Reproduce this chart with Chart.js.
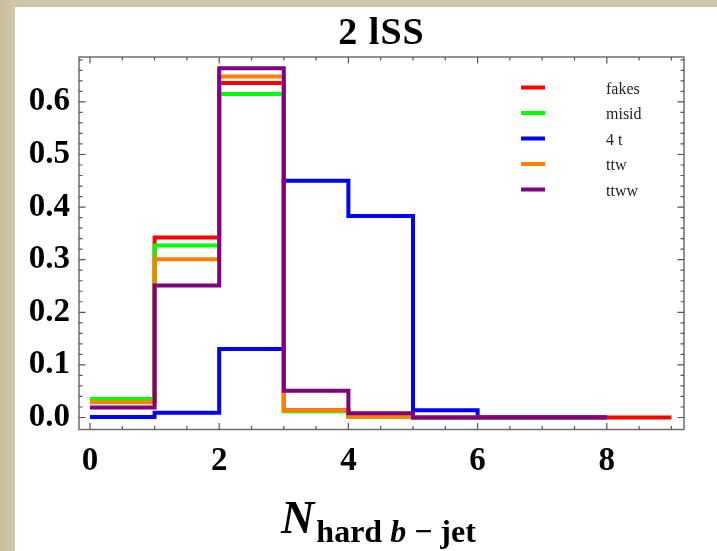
<!DOCTYPE html>
<html>
<head>
<meta charset="utf-8">
<script src="https://cdn.jsdelivr.net/npm/chart.js@4/dist/chart.umd.min.js"></script>
<style>
  html, body { margin: 0; padding: 0; background: #cfc4a7; }
  #wrap { width: 717px; height: 551px; }
  canvas { display: block; }
</style>
</head>
<body>
<div id="wrap"><canvas id="c" width="717" height="551"></canvas></div>
<script>
// Bin edges (N hard b-jet) and normalised distributions per sample
const binEdges = [0, 1, 2, 3, 4, 5, 6, 7, 8, 9];
const fakes   = [0.030, 0.342, 0.636, 0.014, 0.002, 0.000, 0.000, 0.000, 0.000];
const misid   = [0.035, 0.327, 0.615, 0.012, 0.002, 0.000, 0.000, 0.000];
const fourTop = [0.001, 0.009, 0.130, 0.450, 0.383, 0.014, 0.001, 0.001];
const ttw     = [0.029, 0.301, 0.648, 0.014, 0.002, 0.000, 0.000, 0.000];
const ttww    = [0.019, 0.251, 0.664, 0.051, 0.008, 0.000, 0.000, 0.000];

const seriesNames  = ['fakes', 'misid', '4 t', 'ttw', 'ttww'];
const seriesColors = ['#ff0000', '#00ff00', '#0000ff', '#ff8000', '#800080'];
const seriesValues = [fakes, misid, fourTop, ttw, ttww];

const xTickValues = [0, 2, 4, 6, 8];
const yTickValues = [0, 0.1, 0.2, 0.3, 0.4, 0.5, 0.6];

const SERIF = '"Liberation Serif", "Times New Roman", serif';

// histogram outline: each bin value sits at its lower edge; the last value is
// repeated at the upper edge so the final bin is closed off horizontally
function stepPoints(vals) {
  const pts = vals.map((v, i) => ({ x: binEdges[i], y: v }));
  pts.push({ x: binEdges[vals.length], y: vals[vals.length - 1] });
  return pts;
}

const datasets = seriesValues.map((vals, i) => ({
  label: seriesNames[i],
  data: stepPoints(vals),
  borderColor: seriesColors[i],
  backgroundColor: seriesColors[i],
  borderWidth: 4,
  stepped: 'before',
  pointRadius: 0,
  fill: false,
  order: seriesValues.length - i   // later samples drawn on top
}));

const decorations = {
  id: 'decorations',
  beforeDraw(chart) {
    const ctx = chart.ctx;
    ctx.save();
    ctx.fillStyle = '#cfc4a7';
    ctx.fillRect(0, 0, chart.width, chart.height);
    const g = ctx.createLinearGradient(0, 0, 15, 0);
    g.addColorStop(0, '#c9bd9f');
    g.addColorStop(1, '#d3c8ac');
    ctx.fillStyle = g;
    ctx.fillRect(0, 0, 15, chart.height);
    ctx.fillStyle = '#ffffff';
    ctx.fillRect(15, 7, chart.width - 15, chart.height - 7);
    ctx.restore();
  },
  afterDraw(chart) {
    const ctx = chart.ctx;
    const a = chart.chartArea;
    const xs = chart.scales.x, ys = chart.scales.y;
    ctx.save();

    // frame
    ctx.strokeStyle = '#6e6e6e';
    ctx.lineWidth = 1.5;
    ctx.strokeRect(a.left, a.top, a.right - a.left, a.bottom - a.top);

    // inward ticks on all four sides
    ctx.strokeStyle = '#555';
    ctx.lineWidth = 1.2;
    ctx.beginPath();
    for (let k = 0; k <= 18; k++) {
      const v = k * 0.5;
      const px = xs.getPixelForValue(v);
      if (px < a.left || px > a.right) continue;
      const len = (k % 4 === 0) ? 6.5 : 3.5;
      ctx.moveTo(px, a.bottom); ctx.lineTo(px, a.bottom - len);
      ctx.moveTo(px, a.top);    ctx.lineTo(px, a.top + len);
    }
    for (let k = 0; k <= 34; k++) {
      const v = k * 0.02;
      const py = ys.getPixelForValue(v);
      if (py < a.top || py > a.bottom) continue;
      const len = (k % 5 === 0) ? 6.5 : 3.5;
      ctx.moveTo(a.left, py);  ctx.lineTo(a.left + len, py);
      ctx.moveTo(a.right, py); ctx.lineTo(a.right - len, py);
    }
    ctx.stroke();

    // title
    ctx.fillStyle = '#000';
    ctx.font = 'bold 38px ' + SERIF;
    ctx.textAlign = 'center';
    ctx.textBaseline = 'alphabetic';
    if ('letterSpacing' in ctx) ctx.letterSpacing = '1px';
    ctx.fillText('2 lSS', (a.left + a.right) / 2, 44);
    if ('letterSpacing' in ctx) ctx.letterSpacing = '0px';

    // legend
    ctx.textAlign = 'left';
    ctx.textBaseline = 'middle';
    ctx.font = '16px ' + SERIF;
    seriesNames.forEach((name, i) => {
      const y = 87.5 + i * 25.5;
      ctx.strokeStyle = seriesColors[i];
      ctx.lineWidth = 4;
      ctx.beginPath();
      ctx.moveTo(521, y); ctx.lineTo(545, y);
      ctx.stroke();
      ctx.fillStyle = '#222';
      ctx.fillText(name, 606, y + 2);
    });

    // x-axis title: N with subscript "hard b - jet"
    const parts = [
      { t: 'N', f: 'italic bold 46px ' + SERIF, dy: 0 },
      { t: 'hard ', f: 'bold 32px ' + SERIF, dy: 8.5 },
      { t: 'b', f: 'italic bold 32px ' + SERIF, dy: 8.5 },
      { t: ' \u2212 ', f: 'bold 32px ' + SERIF, dy: 8.5 },
      { t: 'jet', f: 'bold 32px ' + SERIF, dy: 8.5 }
    ];
    let total = 0;
    parts.forEach(p => { ctx.font = p.f; p.w = ctx.measureText(p.t).width; total += p.w; });
    total += 2;
    let x = (a.left + a.right) / 2 - total / 2 - 3;
    ctx.textBaseline = 'alphabetic';
    ctx.fillStyle = '#000';
    parts.forEach((p, i) => {
      ctx.font = p.f;
      ctx.fillText(p.t, x, 533 + p.dy);
      x += p.w + (i === 0 ? 2 : 0);
    });
    ctx.restore();
  }
};

new Chart(document.getElementById('c'), {
  type: 'line',
  data: { datasets },
  plugins: [decorations],
  options: {
    responsive: false,
    devicePixelRatio: 1,
    animation: false,
    layout: { padding: { left: 0, right: 33, top: 57, bottom: 0 } },
    plugins: { legend: { display: false }, tooltip: { enabled: false } },
    scales: {
      x: {
        type: 'linear',
        min: -0.17,
        max: 9.195,
        grid: { display: false, drawTicks: false },
        border: { display: false },
        afterBuildTicks: s => { s.ticks = xTickValues.map(v => ({ value: v })); },
        afterFit: s => { s.height = 121.5; },
        ticks: {
          padding: 12,
          color: '#000',
          font: { family: SERIF, size: 33, weight: 'bold' },
          maxRotation: 0,
          callback: v => String(v)
        }
      },
      y: {
        type: 'linear',
        min: -0.0228,
        max: 0.6853,
        grid: { display: false, drawTicks: false },
        border: { display: false },
        afterBuildTicks: s => { s.ticks = yTickValues.map(v => ({ value: v })); },
        afterFit: s => { s.width = 79; },
        ticks: {
          padding: 9,
          color: '#000',
          font: { family: SERIF, size: 33, weight: 'bold' },
          callback: v => Number(v).toFixed(1)
        }
      }
    }
  }
});
</script>
</body>
</html>
